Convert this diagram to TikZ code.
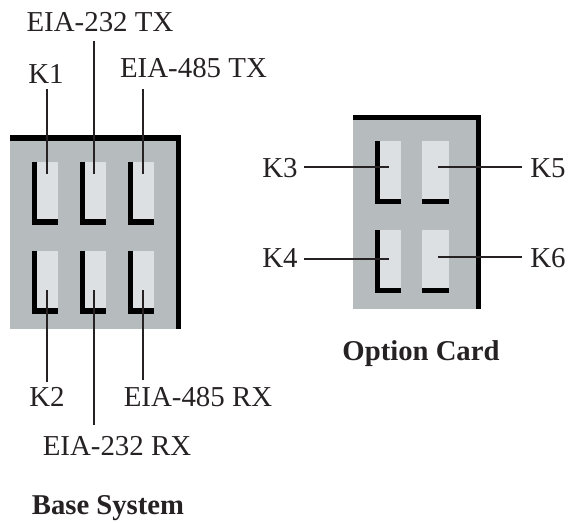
\documentclass[tikz,border=0pt]{standalone}
\usepackage{fontspec}
\setmainfont{Liberation Serif}
\definecolor{boardgray}{RGB}{182,187,189}
\definecolor{slotgray}{RGB}{221,224,227}
\definecolor{leadgray}{RGB}{38,34,35}
\tikzset{
    lbl/.style={font=\fontsize{29}{29}\selectfont, inner sep=0pt, anchor=base, leadgray},
    ttl/.style={font=\fontsize{28.8}{29}\selectfont\bfseries, inner sep=0pt, anchor=base, leadgray},
    lead/.style={line width=2.6bp, color=leadgray},
    rim/.style={fill=black}
}
\begin{document}
\begin{tikzpicture}[x=1bp, y=-1bp]
    \useasboundingbox (0,0) rectangle (568,523);
    % =========================
    % base system
    \fill[boardgray] (10,135) rectangle (181,329);
    \fill[rim] (10,135) rectangle (181,141);
    \fill[rim] (176,135) rectangle (181,329);
    \foreach \x in {32,80,128}
        \foreach \y in {162,251} {
            \fill[slotgray] (\x,\y) rectangle (\x+26,\y+63);
            \fill[rim] (\x,\y) rectangle (\x+5,\y+63);
            \fill[rim] (\x,\y+57) rectangle (\x+26,\y+63);
        }
    % option card
    \fill[boardgray] (353,115) rectangle (481,309);
    \fill[rim] (353,115) rectangle (481,120);
    \fill[rim] (476,115) rectangle (481,309);
    \foreach \y in {141,230} {
        \fill[slotgray] (375,\y) rectangle (401,\y+63);
        \fill[rim] (375,\y) rectangle (380,\y+63);
        \fill[rim] (375,\y+58) rectangle (401,\y+63);
        \fill[slotgray] (422,\y) rectangle (449,\y+63);
        \fill[rim] (422,\y+58) rectangle (449,\y+63);
    }
    % ===============================
    \node[lbl] (kone) at (46,84) {K1};
    \node[lbl] (txa) at (100,32) {EIA-232 TX};
    \node[lbl] (txb) at (193.5,78) {EIA-485 TX};
    \node[lbl] (ktwo) at (47,406) {K2};
    \node[lbl] (rxb) at (198,406) {EIA-485 RX};
    \node[lbl] (rxa) at (117,455) {EIA-232 RX};
    \node[lbl] (kthree) at (280,178) {K3};
    \node[lbl] (kfour) at (280,267) {K4};
    \node[lbl] (kfive) at (548,178) {K5};
    \node[lbl] (ksix) at (548,267) {K6};
    \node[ttl] (base) at (108,514) {Base System};
    \node[ttl] (option) at (421,360) {Option Card};

    \coordinate (pone) at (47,174);
    \coordinate (ptxa) at (94,174);
    \coordinate (ptxb) at (143,174);
    \coordinate (ptwo) at (47,290);
    \coordinate (prxa) at (94,290);
    \coordinate (prxb) at (143,290);
    \coordinate (pthree) at (389,167);
    \coordinate (pfour) at (389,259);
    \coordinate (pfive) at (438,167);
    \coordinate (psix) at (438,257);

    \draw[lead, shorten <=5bp] (pone |- kone.south) -- (pone);
    \draw[lead, shorten <=9bp] (ptxa |- txa.south) -- (ptxa);
    \draw[lead, shorten <=11bp] (ptxb |- txb.south) -- (ptxb);
    \draw[lead, shorten <=5bp] (ptwo |- ktwo.north) -- (ptwo);
    \draw[lead, shorten <=11bp] (prxa |- rxa.north) -- (prxa);
    \draw[lead, shorten <=7bp] (prxb |- rxb.north) -- (prxb);
    \draw[lead, shorten <=6bp] (kthree.east |- pthree) -- (pthree);
    \draw[lead, shorten <=6bp] (kfour.east |- pfour) -- (pfour);
    \draw[lead, shorten <=8bp] (kfive.west |- pfive) -- (pfive);
    \draw[lead, shorten <=8bp] (ksix.west |- psix) -- (psix);
\end{tikzpicture}
\end{document}
